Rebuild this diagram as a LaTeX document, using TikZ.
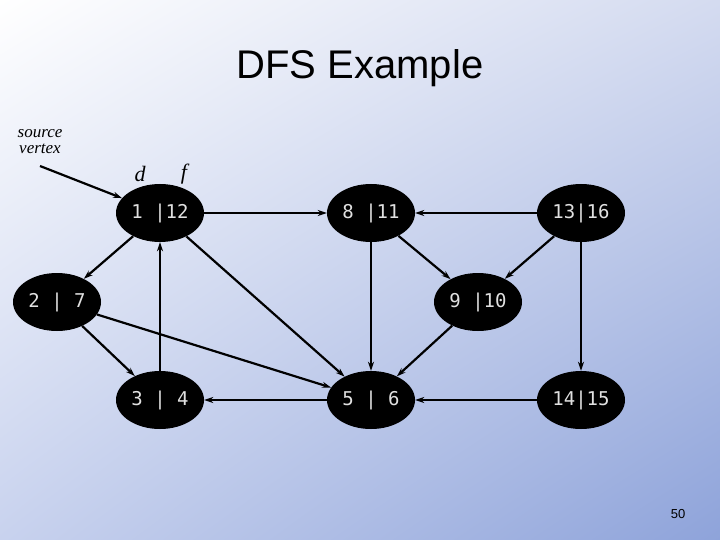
\documentclass[tikz,border=0pt]{standalone}
\usepackage{fontspec}
\setmainfont{Liberation Serif}
\setsansfont{Liberation Sans}
\newfontfamily\monof{DejaVu Sans Mono}
\usetikzlibrary{shapes.geometric,arrows.meta,shadings}
\definecolor{bgA}{HTML}{FFFFFF}
\definecolor{bgB}{HTML}{C8D2EE}
\definecolor{bgC}{HTML}{D4DBF0}
\definecolor{bgD}{HTML}{8EA3DA}
\begin{document}
\begin{tikzpicture}[x=1pt,y=-1pt,
  vtx/.style={ellipse,fill=black,minimum width=88pt,minimum height=58pt,inner sep=0pt,text=white!88!black,font=\monof\fontsize{19}{19}\selectfont},
  edge/.style={-{Stealth[length=9pt,width=6pt]},line width=2.2pt}]
\shade[upper left=bgA, upper right=bgC, lower left=bgB, lower right=bgD] (0,0) rectangle (720,540);
\useasboundingbox (0,0) rectangle (720,540);
\node[font=\sffamily\fontsize{40}{40}\selectfont] (title) at (360,68) {DFS Example};
\node[font=\itshape\fontsize{17}{18}\selectfont,align=center] (src) at (40,142) {source\\[-2pt]vertex};
\node[font=\itshape\fontsize{22}{22}\selectfont] (d) at (140,174) {d};
\node[font=\itshape\fontsize{22}{22}\selectfont] (f) at (184,174) {f};
\node[vtx] (A) at (160,213) {1 |12};
\node[vtx] (B) at (371,213) {8 |11};
\node[vtx] (C) at (581,213) {13|16};
\node[vtx] (D) at (57,302) {2 | 7};
\node[vtx] (E) at (478,302) {9 |10};
\node[vtx] (F) at (160,400) {3 | 4};
\node[vtx] (G) at (371,400) {5 | 6};
\node[vtx] (H) at (581,400) {14|15};
\coordinate (s) at (40,166);
\draw[edge] (s) -- (A);
\draw[edge] (A) -- (B);
\draw[edge] (C) -- (B);
\draw[edge] (A) -- (D);
\draw[edge] (D) -- (F);
\draw[edge] (F) -- (A);
\draw[edge] (A) -- (G);
\draw[edge] (D) -- (G);
\draw[edge] (B) -- (G);
\draw[edge] (B) -- (E);
\draw[edge] (C) -- (E);
\draw[edge] (E) -- (G);
\draw[edge] (C) -- (H);
\draw[edge] (H) -- (G);
\draw[edge] (G) -- (F);
\node[font=\sffamily\fontsize{13}{13}\selectfont] (num) at (678,514) {50};
\end{tikzpicture}
\end{document}
